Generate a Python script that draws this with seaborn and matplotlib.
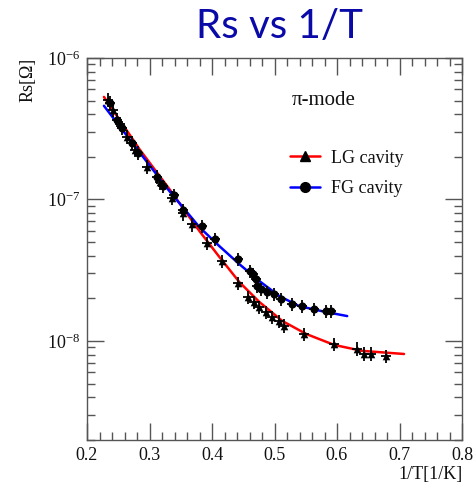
import numpy as np
import pandas as pd
import matplotlib
matplotlib.use("Agg")
import matplotlib.pyplot as plt
from matplotlib.lines import Line2D
from matplotlib.ticker import LogLocator, MultipleLocator, NullFormatter, FixedLocator
import seaborn as sns

# ---- data ----
lg_x = [0.2335, 0.2415, 0.2526, 0.2638, 0.2766, 0.2957, 0.3164, 0.3356, 0.3531,
        0.3675, 0.3914, 0.4153, 0.4408, 0.4568, 0.4679, 0.4759, 0.4871, 0.4967,
        0.5078, 0.5158, 0.5477, 0.5955, 0.6322, 0.6434, 0.6545, 0.6785]
lg_rs = [5.06e-7, 4.31e-7, 3.43e-7, 2.78e-7, 2.25e-7, 1.71e-7, 1.32e-7, 1.03e-7, 7.97e-8,
         6.66e-8, 4.90e-8, 3.66e-8, 2.56e-8, 2.04e-8, 1.88e-8, 1.73e-8, 1.60e-8, 1.47e-8,
         1.38e-8, 1.28e-8, 1.12e-8, 9.5e-9, 8.8e-9, 8.1e-9, 8.1e-9, 7.8e-9]

fg_x = [0.2367, 0.2478, 0.2558, 0.2718, 0.2813, 0.3116, 0.3212, 0.3388, 0.3531,
        0.3834, 0.4041, 0.4408, 0.4600, 0.4648, 0.4711, 0.4727, 0.4791, 0.4887,
        0.4998, 0.5110, 0.5285, 0.5445, 0.5636, 0.5828, 0.5907]
fg_rs = [4.82e-7, 3.66e-7, 3.21e-7, 2.52e-7, 2.14e-7, 1.45e-7, 1.24e-7, 1.07e-7, 8.4e-8,
         6.46e-8, 5.23e-8, 3.78e-8, 3.11e-8, 2.96e-8, 2.73e-8, 2.44e-8, 2.32e-8, 2.21e-8,
         2.14e-8, 1.98e-8, 1.82e-8, 1.76e-8, 1.68e-8, 1.62e-8, 1.62e-8]

# fit curves
lg_fit_x = [0.2271, 0.2845, 0.3324, 0.3802, 0.4121, 0.4440, 0.4759, 0.5126, 0.5509,
            0.5955, 0.6402, 0.7072]
lg_fit_log = [-6.275, -6.648, -6.930, -7.225, -7.408, -7.585, -7.725, -7.859, -7.951,
              -8.028, -8.070, -8.092]
fg_fit_x = [0.2271, 0.2845, 0.3324, 0.3802, 0.4121, 0.4440, 0.4759, 0.5078, 0.5397,
            0.5828, 0.6163]
fg_fit_log = [-6.338, -6.669, -6.944, -7.197, -7.331, -7.458, -7.577, -7.683, -7.754,
              -7.796, -7.824]

x_err = 0.008
y_rel_err = 0.11

x_ticks = [0.2, 0.3, 0.4, 0.5, 0.6, 0.7, 0.8]
y_ticks = [1e-8, 1e-7, 1e-6]
y_tick_labels = [r"$10^{-8}$", r"$10^{-7}$", r"$10^{-6}$"]

# ---- styling ----
sns.set_theme(style="ticks")
serif = ["Liberation Serif", "DejaVu Serif"]
plt.rcParams["font.family"] = serif
plt.rcParams["mathtext.fontset"] = "custom"
plt.rcParams["mathtext.rm"] = "Liberation Serif"
plt.rcParams["mathtext.it"] = "Liberation Serif:italic"
plt.rcParams["mathtext.bf"] = "Liberation Serif:bold"

W, H = 476, 486
fig = plt.figure(figsize=(W / 100, H / 100), dpi=100)
L, R, T, B = 87, 462, 58, 440
ax = fig.add_axes([L / W, 1 - B / H, (R - L) / W, (B - T) / H])

lg_fit = pd.DataFrame({"x": lg_fit_x, "y": [10 ** v for v in lg_fit_log]})
fg_fit = pd.DataFrame({"x": fg_fit_x, "y": [10 ** v for v in fg_fit_log]})
sns.lineplot(data=lg_fit, x="x", y="y", ax=ax, color="#ff0000", lw=1.8, zorder=2)
sns.lineplot(data=fg_fit, x="x", y="y", ax=ax, color="#0000ff", lw=1.8, zorder=2)

lg = pd.DataFrame({"x": lg_x, "y": lg_rs})
fg = pd.DataFrame({"x": fg_x, "y": fg_rs})
for d in (lg, fg):
    ax.errorbar(d["x"], d["y"], xerr=x_err, yerr=d["y"] * y_rel_err, fmt="none",
                ecolor="black", elinewidth=1.3, capsize=0, zorder=3)
sns.scatterplot(data=lg, x="x", y="y", ax=ax, marker="^", color="black", s=30,
                edgecolor="black", linewidth=0, zorder=4)
sns.scatterplot(data=fg, x="x", y="y", ax=ax, marker="o", color="black", s=34,
                edgecolor="black", linewidth=0, zorder=4)

ax.set_yscale("log")
ax.set_xlim(0.2, 0.8)
ax.set_ylim(10 ** -8.7, 1e-6)
ax.set_xticks(x_ticks)
ax.set_xticklabels([f"{v:.1f}" for v in x_ticks])
ax.xaxis.set_minor_locator(MultipleLocator(0.02))
ax.set_yticks(y_ticks)
ax.set_yticklabels(y_tick_labels)
ax.yaxis.set_minor_locator(LogLocator(base=10, subs=np.arange(2, 10), numticks=20))
ax.yaxis.set_minor_formatter(NullFormatter())

frame_c = "#555555"
for s in ax.spines.values():
    s.set_color(frame_c)
    s.set_linewidth(1.0)
ax.tick_params(which="both", direction="in", top=True, right=True, color=frame_c,
               width=1.0, labelsize=13, labelcolor="#111111", pad=5)
ax.tick_params(which="major", length=12)
ax.tick_params(which="minor", length=6)

ax.set_xlabel("1/T[1/K]", fontsize=13, color="#111111", loc="right")
ax.xaxis.set_label_coords(1.003, -0.068)
ax.set_ylabel("Rs[Ω]", fontsize=13, color="#111111", loc="top")
ax.yaxis.set_label_coords(-0.135, 1.0)

ax.text(0.547, 0.89, "π-mode", transform=ax.transAxes, fontsize=15,
        va="center", ha="left", color="#111111")

handles = [
    Line2D([], [], color="#ff0000", lw=1.8, marker="^", markersize=7,
           markerfacecolor="black", markeredgecolor="black"),
    Line2D([], [], color="#0000ff", lw=1.8, marker="o", markersize=7,
           markerfacecolor="black", markeredgecolor="black"),
]
ax.legend(handles, ["LG cavity", "FG cavity"], loc="center left",
          bbox_to_anchor=(0.54, 0.698), frameon=False, fontsize=13,
          handlelength=1.7, handletextpad=0.6, labelspacing=0.75,
          borderpad=0, borderaxespad=0, labelcolor="#111111")

fig.text(279 / W, 1 - 27 / H, "Rs vs 1/T", fontsize=29, color="#0a0aa8",
         ha="center", va="center", family=["Lato", "DejaVu Sans"])

fig.savefig("out.png", dpi=100)
